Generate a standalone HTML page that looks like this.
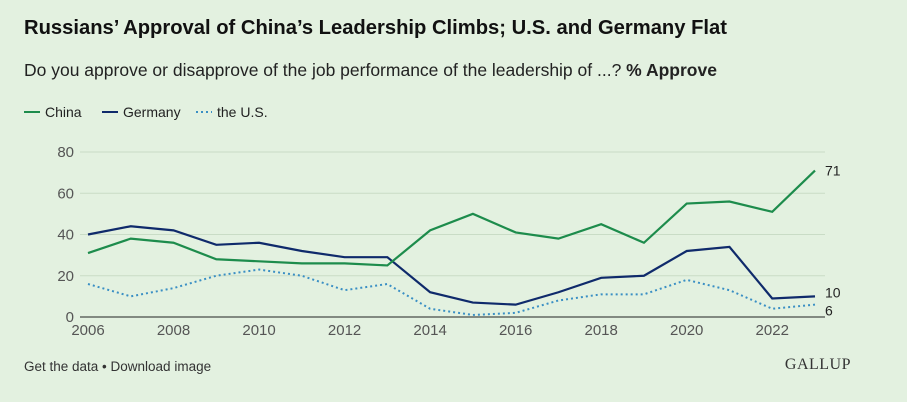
<!DOCTYPE html>
<html><head><meta charset="utf-8"><style>
body{margin:0;width:907px;height:402px;background:#e3f1e0;font-family:"Liberation Sans",sans-serif;overflow:hidden}
#t{position:absolute;left:24px;top:17px;font-size:20.2px;font-weight:bold;color:#111;white-space:nowrap}
#s{position:absolute;left:24px;top:60px;font-size:17.5px;color:#222;white-space:nowrap}
#f{position:absolute;left:24px;top:359px;font-size:13.5px;color:#333;white-space:nowrap}
#g{position:absolute;right:56px;top:356px;font-family:"Liberation Serif",serif;font-size:16px;color:#333;letter-spacing:0.5px}
svg{position:absolute;left:0;top:0}
</style></head><body>
<div id="t">Russians’ Approval of China’s Leadership Climbs; U.S. and Germany Flat</div>
<div id="s">Do you approve or disapprove of the job performance of the leadership of ...? <b>% Approve</b></div>
<div id="f">Get the data • Download image</div>
<div id="g">GALLUP</div>
<svg id="c" width="907" height="402"></svg>
<script>
const years=[2006,2007,2008,2009,2010,2011,2012,2013,2014,2015,2016,2017,2018,2019,2020,2021,2022,2023];
const china=[31,38,36,28,27,26,26,25,42,50,41,38,45,36,55,56,51,71];
const germany=[40,44,42,35,36,32,29,29,12,7,6,12,19,20,32,34,9,10];
const us=[16,10,14,20,23,20,13,16,4,1,2,8,11,11,18,13,4,6];
const yTicks=[0,20,40,60,80];
const xTicks=[2006,2008,2010,2012,2014,2016,2018,2020,2022];
const svg=document.getElementById('c');const NS='http://www.w3.org/2000/svg';
const x=v=>88+(v-2006)*(815-88)/17;
const y=v=>317-v*(317-152)/80;
function mk(t,a,p){const e=document.createElementNS(NS,t);for(const k in a)e.setAttribute(k,a[k]);(p||svg).appendChild(e);return e;}
yTicks.forEach(v=>{
 const l=mk('line',{x1:80,x2:825,y1:y(v),y2:y(v),stroke:v?'#c9dcc6':'#222','stroke-width':1});
 
 
 const t=mk('text',{x:74,y:y(v)+5,'text-anchor':'end','font-size':15,fill:'#555'});t.textContent=v;
 
 
});
xTicks.forEach(v=>{
 const t=mk('text',{x:x(v),y:335,'text-anchor':'middle','font-size':15,fill:'#555'});t.textContent=v;
 
 
});
function line(d,col,dash,name){
 const p=mk('polyline',{points:d.map((v,i)=>x(years[i])+','+y(v)).join(' '),fill:'none',stroke:col,'stroke-width':dash?2:2.2,'stroke-dasharray':dash?'2 3':'none'});
 
 
}
line(us,'#3a8fc4',true,'us-line');
line(germany,'#0f2a6b',false,'germany-line');
line(china,'#1d8c4c',false,'china-line');
[[china,'china',0],[germany,'germany',-4],[us,'us',6]].forEach(([d,n,off])=>{
 const v=d[d.length-1];const t=mk('text',{x:825,y:y(v)+5+off,'font-size':14,fill:'#222'});t.textContent=v;
 
 
});
const leg=[['China','#1d8c4c',false,24],['Germany','#0f2a6b',false,102],['the U.S.','#3a8fc4',true,196]];
leg.forEach(([n,c,d,lx])=>{
 const g=mk('g',{});
 
 
 mk('line',{x1:lx,x2:lx+16,y1:112,y2:112,stroke:c,'stroke-width':2,'stroke-dasharray':d?'2 3':'none'},g);
 const t=mk('text',{x:lx+21,y:117,'font-size':14,fill:'#222'},g);t.textContent=n;
});
</script>
</body></html>
